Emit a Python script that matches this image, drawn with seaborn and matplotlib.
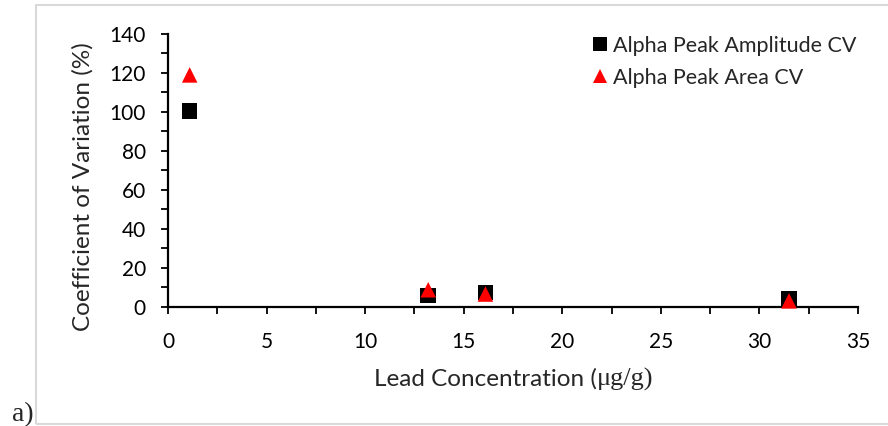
import matplotlib
matplotlib.use("Agg")
import matplotlib.pyplot as plt
from matplotlib.patches import Rectangle
from matplotlib.ticker import MultipleLocator
import seaborn as sns
import pandas as pd

# Data
conc_amp = [1.1, 13.2, 16.1, 31.5]
cv_amp = [100.5, 5.7, 7.3, 4.0]
conc_area = [1.1, 13.2, 16.1, 31.5]
cv_area = [119.0, 8.7, 6.5, 3.0]
series_names = ["Alpha Peak Amplitude CV", "Alpha Peak Area CV"]
x_ticks = [0, 5, 10, 15, 20, 25, 30, 35]
y_ticks = [0, 20, 40, 60, 80, 100, 120, 140]

df = pd.DataFrame({
    "conc": conc_amp + conc_area,
    "cv": cv_amp + cv_area,
    "series": [series_names[0]] * len(conc_amp) + [series_names[1]] * len(conc_area),
})

sns.set_theme(style="white")
SANS = ["Lato", "DejaVu Sans"]
SERIF = ["Liberation Serif", "DejaVu Serif"]
plt.rcParams["font.family"] = SANS
FS = 15
FS_LEG = 15.5
FS_LAB = 17.5

W, H = 888, 426
fig = plt.figure(figsize=(W / 100, H / 100), dpi=100)
fig.patch.set_facecolor("white")

x0, x1 = 168, 858
y0, y1 = 306.7, 34
ax = fig.add_axes([x0 / W, 1 - y0 / H, (x1 - x0) / W, (y0 - y1) / H])

sns.scatterplot(
    data=df, x="conc", y="cv", hue="series", style="series",
    palette={series_names[0]: "black", series_names[1]: "#ff0000"},
    markers={series_names[0]: "s", series_names[1]: "^"},
    s=125, linewidth=0, ax=ax, clip_on=False, legend=True, zorder=3,
)

ax.set_xlim(0, 35)
ax.set_ylim(0, 140)
ax.set_xticks(x_ticks)
ax.set_yticks(y_ticks)
ax.xaxis.set_minor_locator(MultipleLocator(2.5))
ax.yaxis.set_minor_locator(MultipleLocator(10))
ax.set_xlabel("")
ax.set_ylabel("")
for side in ["top", "right"]:
    ax.spines[side].set_visible(False)
for side in ["left", "bottom"]:
    ax.spines[side].set_color("black")
    ax.spines[side].set_linewidth(1.6)
ax.tick_params(axis="both", which="both", direction="out", length=5, width=1.3,
               color="black", labelsize=FS, labelcolor="black")
ax.tick_params(axis="x", which="both", bottom=True, pad=13)
ax.tick_params(axis="y", which="both", left=True, pad=11)
for lbl in ax.get_xticklabels() + ax.get_yticklabels():
    lbl.set_fontfamily(SANS)

leg = ax.legend(
    loc="upper left", bbox_to_anchor=(577 / W, 1 - 25 / H), bbox_transform=fig.transFigure,
    frameon=False, fontsize=FS_LEG, handletextpad=0.05, labelspacing=0.55,
    borderpad=0, handlelength=1.1, markerscale=0.85,
)
for t in leg.get_texts():
    t.set_fontfamily(SANS)

# Y label
fig.text(83 / W, 1 - 187 / H, "Coefficient of Variation (%)", rotation=90,
         ha="center", va="center", fontsize=FS_LAB, family=SANS)

# X label: sans part + serif part
fig.canvas.draw()
r = fig.canvas.get_renderer()
base_y = 1 - 386 / H
t1 = fig.text(0, base_y, "Lead Concentration (", fontsize=FS_LAB, family=SANS, va="baseline")
t2 = fig.text(0, base_y, "\u03bcg/g)", fontsize=19, family=SERIF, va="baseline")
w1 = t1.get_window_extent(r).width
w2 = t2.get_window_extent(r).width
start = 514 - (w1 + w2) / 2
t1.set_x(start / W)
t2.set_x((start + w1) / W)

# "a)" label
fig.text(12 / W, 1 - 421 / H, "a)", fontsize=20, family=SERIF, va="baseline")

# Light gray frame
fig.add_artist(Rectangle((36 / W, 2 / H), 1.0, 1 - 7 / H, transform=fig.transFigure,
                         fill=False, edgecolor="#d9d9d9", linewidth=1.5, clip_on=False))

fig.savefig("out.png", dpi=100, facecolor="white")
